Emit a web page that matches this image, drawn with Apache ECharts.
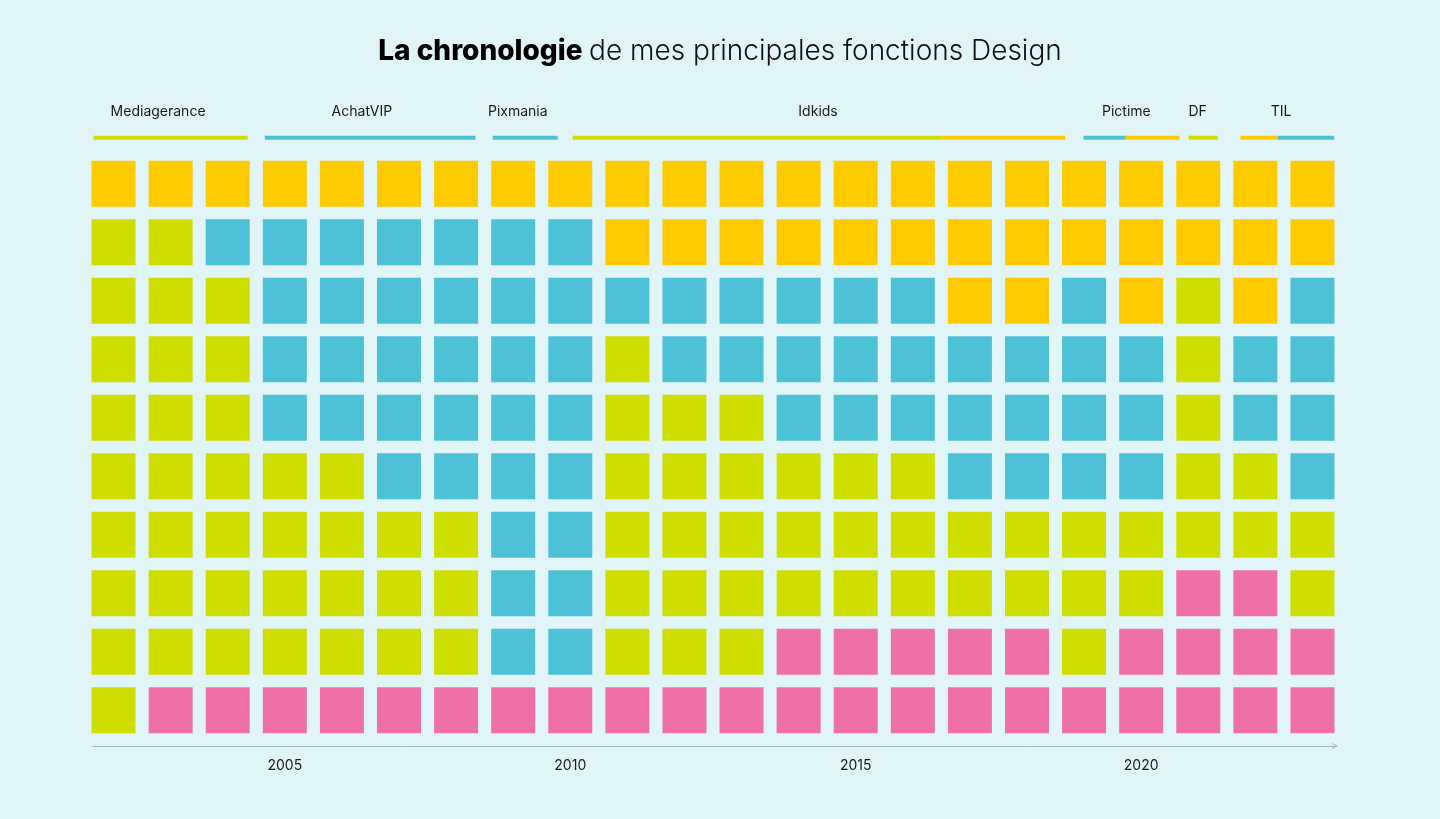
<!DOCTYPE html>
<html>
<head>
<meta charset="utf-8">
<script src="https://cdn.jsdelivr.net/npm/echarts@6/dist/echarts.min.js"></script>
<style>
html,body{margin:0;padding:0;background:#E1F4F8;}
#c{width:1440px;height:819px;}
</style>
</head>
<body>
<div id="c"></div>
<script>
// ---------- DATA ----------
const years = ['2002','2003','2004','2005','2006','2007','2008','2009','2010','2011','2012',
               '2013','2014','2015','2016','2017','2018','2019','2020','2021','2022','2023'];
const labelYears = ['2005','2010','2015','2020'];
// one string per row (top to bottom), one letter per year
// Y = yellow, L = lime, B = blue, P = pink
const row1  = 'YYYYYYYYYYYYYYYYYYYYYY';
const row2  = 'LLBBBBBBBYYYYYYYYYYYYY';
const row3  = 'LLLBBBBBBBBBBBBYYBYLYB';
const row4  = 'LLLBBBBBBLBBBBBBBBBLBB';
const row5  = 'LLLBBBBBBLLLBBBBBBBLBB';
const row6  = 'LLLLLBBBBLLLLLLBBBBLLB';
const row7  = 'LLLLLLLBBLLLLLLLLLLLLL';
const row8  = 'LLLLLLLBBLLLLLLLLLLPPL';
const row9  = 'LLLLLLLBBLLLPPPPPLPPPP';
const row10 = 'LPPPPPPPPPPPPPPPPPPPPP';
const rows = [row1,row2,row3,row4,row5,row6,row7,row8,row9,row10];

const companies = ['Mediagerance','AchatVIP','Pixmania','Idkids','Pictime','DF','TIL'];
const companyLabelAt = [2003.28, 2006.85, 2009.58, 2014.84, 2020.24, 2021.49, 2022.95];
const segStart = [2002.15, 2005.15, 2009.14, 2010.54, 2017.00, 2019.49, 2020.23, 2021.33, 2022.24, 2022.89];
const segEnd   = [2004.85, 2008.84, 2010.28, 2017.00, 2019.17, 2020.23, 2021.17, 2021.84, 2022.89, 2023.88];
const segColor = ['L','B','B','L','Y','B','Y','L','Y','B'];

// ---------- STYLE ----------
const colorOf = {Y:'#FDCB00', L:'#CEDF00', B:'#4DC1D6', P:'#EF70A7'};
const FONT = 'Inter, "Noto Sans", sans-serif';

const cells = [];
rows.forEach((codes, r) => {
  codes.split('').forEach((c, i) => {
    cells.push({value:[years[i], String(r)], itemStyle:{color: colorOf[c], opacity: 1}});
  });
});
const segData = segStart.map((s, i) => [s, segEnd[i], 0]);
const labelData = companyLabelAt.map((x, i) => [x, 1, companies[i]]);

const chart = echarts.init(document.getElementById('c'), null, {renderer:'canvas'});
const chevron = 'path://M0,10 L5,0 L10,10 L8.4,10 L5,3.2 L1.6,10 Z';

chart.setOption({
  backgroundColor: '#E1F4F8',
  animation: false,
  title: {
    left: 'center',
    top: 33,
    text: '{b|La chronologie} {r|de mes principales fonctions Design}',
    textStyle: {
      fontSize: 28, fontFamily: FONT, color: '#111',
      rich: {
        b: {fontSize: 28, fontWeight: 800, fontFamily: FONT, color: '#000'},
        r: {fontSize: 28, fontWeight: 300, fontFamily: FONT, color: '#111'}
      }
    }
  },
  grid: [
    {left: 85, width: 1256, top: 154.5, height: 585},
    {left: 85, width: 1256, top: 111.7, height: 26},
    {left: 93, right: 105, top: 700, height: 46}
  ],
  xAxis: [
    {
      type: 'category', gridIndex: 0, data: years, boundaryGap: true,
      axisLine: {show: false}, axisTick: {show: false}, splitLine: {show: false},
      axisLabel: {
        interval: (i, v) => labelYears.indexOf(v) >= 0,
        color: '#1a1a1a', fontSize: 14, fontFamily: FONT, margin: 19
      }
    },
    {type: 'value', gridIndex: 1, min: 2002, max: 2024, show: false},
    {
      type: 'value', gridIndex: 2, min: 0, max: 1,
      axisLine: {show: true, symbol: ['none', chevron], symbolSize: [10, 6],
                 lineStyle: {color: '#A0B4BB', width: 1}},
      axisTick: {show: false}, axisLabel: {show: false}, splitLine: {show: false}
    }
  ],
  yAxis: [
    {type: 'category', gridIndex: 0, data: rows.map((r, i) => String(i)), inverse: true, show: false},
    {type: 'value', gridIndex: 1, min: 0, max: 1, show: false},
    {type: 'value', gridIndex: 2, min: 0, max: 1, show: false}
  ],
  series: [
    {
      type: 'scatter', xAxisIndex: 0, yAxisIndex: 0,
      symbol: 'rect', symbolSize: [44, 46],
      itemStyle: {opacity: 1},
      data: cells, silent: true
    },
    {
      type: 'custom', xAxisIndex: 1, yAxisIndex: 1,
      data: segData, encode: {x: [0, 1], y: 2},
      renderItem: (params, api) => {
        const a = api.coord([api.value(0), 0]);
        const b = api.coord([api.value(1), 0]);
        return {type: 'rect', shape: {x: a[0], y: a[1] - 2, width: b[0] - a[0], height: 4},
                style: {fill: colorOf[segColor[params.dataIndex]]}};
      }
    },
    {
      type: 'custom', xAxisIndex: 1, yAxisIndex: 1,
      data: labelData, encode: {x: 0, y: 1},
      renderItem: (params, api) => {
        const p = api.coord([api.value(0), api.value(1)]);
        return {type: 'text', x: p[0], y: p[1],
                style: {text: companies[params.dataIndex], align: 'center', verticalAlign: 'middle',
                        fontSize: 14, fontFamily: FONT, fill: '#1a1a1a'}};
      }
    }
  ]
});
</script>
</body>
</html>
